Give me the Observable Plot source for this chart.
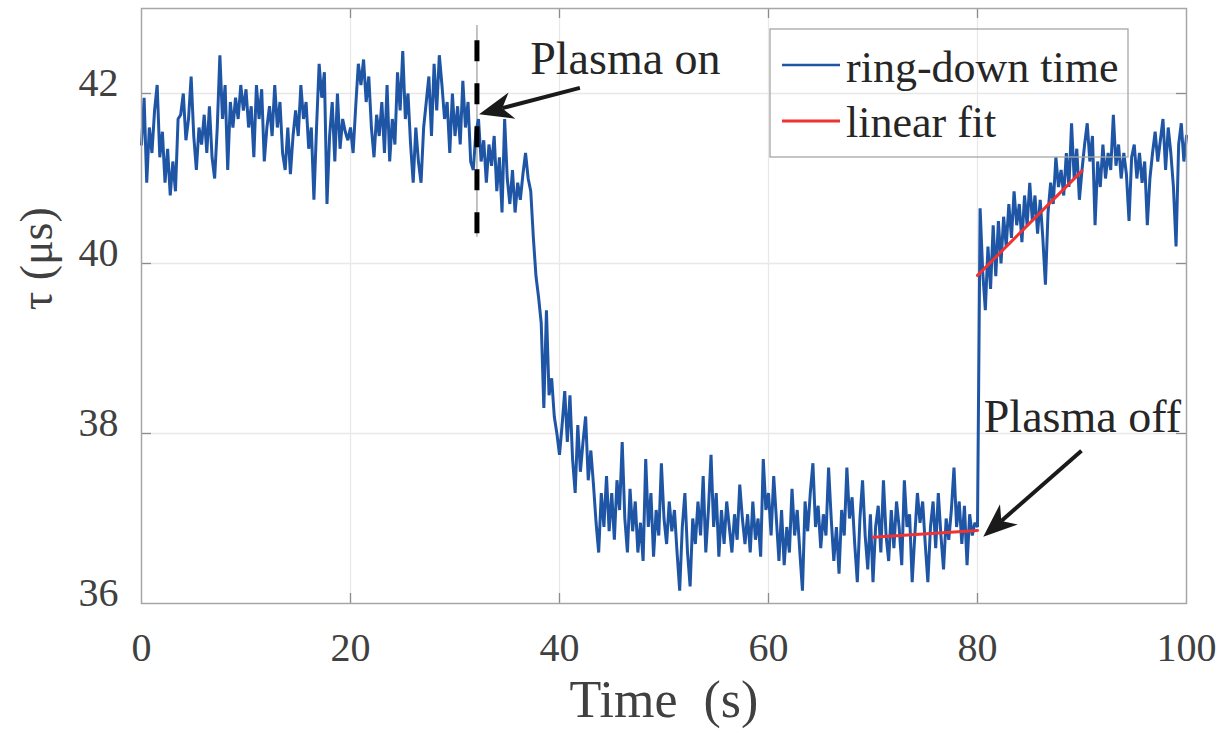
<!DOCTYPE html>
<html>
<head>
<meta charset="utf-8">
<script src="https://cdn.jsdelivr.net/npm/d3@7"></script>
<script src="https://cdn.jsdelivr.net/npm/@observablehq/plot@0.6"></script>
<style>
  body { margin: 0; background: #fff; }
  #chart svg { display: block; }
</style>
</head>
<body>
<div id="chart"></div>
<script>
// ---------- data ----------
const timeStep = 0.25; // seconds between samples
// ring-down time τ (µs), blocks of 5 s
const tau0_5   = [41.4, 41.95, 40.95, 41.6, 41.3, 41.8, 42.1, 41.25, 41.55, 40.95, 41.35, 40.8, 41.2, 40.85, 41.7, 41.75, 42.0, 41.45, 41.7, 42.2];
const tau5_10  = [41.5, 41.1, 41.6, 41.4, 41.75, 41.3, 41.85, 41.25, 41.0, 41.6, 42.45, 41.7, 42.1, 41.1, 41.9, 41.6, 41.95, 41.7, 42.1, 41.8];
const tau10_15 = [42.05, 41.6, 41.85, 41.25, 42.1, 41.7, 42.05, 41.2, 41.6, 41.85, 41.5, 42.1, 41.6, 41.9, 41.3, 41.1, 41.6, 41.05, 41.5, 41.8];
const tau15_20 = [41.5, 42.1, 41.7, 41.9, 41.35, 41.6, 40.75, 41.6, 42.35, 41.95, 42.25, 40.7, 41.5, 41.9, 41.2, 42.0, 41.35, 41.7, 41.55, 41.45];
const tau20_25 = [41.6, 41.3, 41.85, 42.35, 42.1, 42.4, 41.9, 42.2, 41.6, 41.25, 41.75, 41.5, 41.9, 41.3, 42.1, 41.2, 41.7, 41.4, 42.25, 41.8];
const tau25_30 = [42.5, 41.7, 42.0, 41.4, 40.95, 41.6, 41.2, 40.95, 41.6, 41.9, 42.2, 41.5, 42.35, 41.8, 42.45, 42.1, 41.7, 41.9, 41.3, 42.0];
const tau30_35 = [41.5, 41.85, 41.4, 42.15, 41.6, 41.9, 41.2, 41.1, 41.55, 41.7, 41.2, 41.45, 40.95, 41.4, 41.15, 41.5, 40.85, 41.25, 40.6, 41.7];
const tau35_40 = [41.0, 40.7, 41.1, 40.6, 40.95, 40.75, 41.05, 41.3, 41.0, 40.85, 40.3, 39.85, 39.6, 39.3, 38.3, 39.45, 38.45, 38.65, 38.2, 38.0];
const tau40_45 = [37.75, 38.1, 38.5, 37.9, 38.45, 37.7, 37.3, 38.1, 37.55, 37.9, 38.2, 37.45, 37.8, 37.4, 36.95, 36.6, 37.3, 36.9, 37.5, 36.85];
const tau45_50 = [37.3, 36.75, 37.45, 37.1, 37.9, 37.0, 36.6, 37.35, 36.85, 37.2, 36.6, 36.95, 36.5, 37.7, 36.9, 37.3, 36.55, 37.1, 36.8, 37.65];
const tau50_55 = [37.0, 36.7, 37.2, 36.85, 37.1, 36.6, 36.15, 36.9, 37.3, 36.6, 36.2, 37.0, 36.7, 37.2, 36.8, 37.5, 36.6, 37.1, 37.75, 36.9];
const tau55_60 = [37.3, 36.55, 37.1, 36.7, 37.2, 36.9, 36.6, 37.05, 36.75, 37.4, 37.0, 36.7, 37.05, 36.6, 37.2, 36.75, 37.0, 36.55, 37.7, 37.1];
const tau60_65 = [37.3, 36.8, 37.5, 37.0, 36.5, 37.1, 36.45, 36.9, 36.6, 37.35, 36.8, 37.1, 36.6, 36.15, 37.2, 36.85, 37.3, 37.65, 36.9, 37.15];
const tau65_70 = [36.65, 37.05, 36.8, 37.6, 37.0, 36.5, 36.9, 36.35, 37.1, 36.8, 37.6, 37.0, 37.25, 36.7, 36.25, 37.0, 37.45, 36.8, 36.4, 37.05];
const tau70_75 = [36.25, 36.9, 37.15, 36.6, 37.45, 36.8, 36.5, 37.1, 36.65, 37.2, 36.9, 36.45, 37.45, 36.9, 37.05, 36.25, 36.8, 37.3, 36.95, 37.2];
const tau75_80 = [36.7, 36.25, 36.9, 37.2, 36.65, 37.3, 36.8, 36.4, 37.0, 36.75, 37.1, 37.6, 36.9, 37.2, 36.7, 37.15, 36.45, 37.05, 36.8, 36.95];
const tau80_85 = [36.9, 40.65, 39.9, 39.45, 40.2, 39.7, 40.45, 39.85, 40.5, 40.0, 40.55, 40.2, 40.7, 40.3, 40.85, 40.45, 40.7, 40.25, 40.8, 40.45];
const tau85_90 = [40.95, 40.5, 40.8, 40.35, 40.75, 40.3, 39.75, 40.6, 40.95, 40.7, 41.25, 40.9, 41.1, 40.8, 41.3, 40.9, 41.65, 41.0, 41.35, 40.75];
const tau90_95 = [41.1, 41.4, 41.65, 41.2, 41.5, 40.45, 41.2, 40.9, 41.4, 41.0, 41.3, 41.1, 41.75, 41.15, 41.4, 41.0, 41.3, 41.05, 40.5, 41.25];
const tau95_100 = [41.4, 41.0, 41.3, 40.95, 41.2, 40.45, 41.0, 41.3, 41.55, 41.2, 41.45, 41.7, 41.1, 41.6, 41.3, 40.9, 40.2, 41.4, 41.65, 41.2, 41.5];

// linear fits
const fitBeforeT = [70, 80];
const fitBeforeTau = [36.78, 36.86];
const fitAfterT = [80, 90];
const fitAfterTau = [39.86, 41.09];

// ticks
const xTicks = [0, 20, 40, 60, 80, 100];
const yTicks = [36, 38, 40, 42];

// annotations (data coordinates)
const plasmaOnT = 32.1;
const plasmaOnGuide = [40.31, 42.80];
const plasmaOnDash = [42.62, 40.31];
const arrowOn = {from: [42.0, 42.06], to: [32.35, 41.75]};
const arrowOff = {from: [90.0, 37.79], to: [80.6, 36.78]};
const labelOn = {t: 37.2, tau: 42.23, text: "Plasma on"};
const labelOff = {t: 80.6, tau: 38.02, text: "Plasma off"};
const legendLabels = ["ring-down time", "linear fit"];
const xLabel = "Time  (s)";
const yLabel = "τ (μs)";

// ---------- build tables ----------
const tauAll = [tau0_5, tau5_10, tau10_15, tau15_20, tau20_25, tau25_30, tau30_35, tau35_40,
  tau40_45, tau45_50, tau50_55, tau55_60, tau60_65, tau65_70, tau70_75, tau75_80,
  tau80_85, tau85_90, tau90_95, tau95_100].flat();
const ringdown = tauAll.map((v, i) => ({t: i * timeStep, tau: v}));
const fitBefore = fitBeforeT.map((t, i) => ({t, tau: fitBeforeTau[i]}));
const fitAfter = fitAfterT.map((t, i) => ({t, tau: fitAfterTau[i]}));

const BLUE = "#1f55a5";
const RED = "#f03232";
const FONT = "'Liberation Serif', 'Times New Roman', serif";
const TXT = "#404040";
const tickLenY = 10 / 85;   // tick length in τ units
const tickLenX = 10 / 10.45; // tick length in s units

const innerX = xTicks.filter(d => d > 0 && d < 100);
const innerY = yTicks.filter(d => d > 36);

const plot = Plot.plot({
  width: 1220,
  height: 733,
  marginLeft: 141,
  marginRight: 34,
  marginTop: 8,
  marginBottom: 130,
  style: {fontFamily: FONT, background: "#fff", overflow: "visible"},
  x: {domain: [0, 100]},
  y: {domain: [36, 43]},
  marks: [
    Plot.gridX(innerX, {stroke: "#e8e8e8", strokeOpacity: 1, strokeWidth: 1.3}),
    Plot.gridY(innerY, {stroke: "#e8e8e8", strokeOpacity: 1, strokeWidth: 1.3}),
    Plot.axisX(xTicks, {tickSize: 0, tickPadding: 29, fontSize: 40, fill: TXT, label: null, tickFormat: d => String(d)}),
    Plot.axisY(yTicks, {tickSize: 0, tickPadding: 23, fontSize: 40, fill: TXT, label: null, dy: -10, tickFormat: d => String(d)}),
    // inward ticks on all sides
    Plot.ruleX(innerX, {x: d => d, y1: 36, y2: 36 + tickLenY, stroke: "#8c8c8c", strokeWidth: 1.3}),
    Plot.ruleX(innerX, {x: d => d, y1: 43 - tickLenY, y2: 43, stroke: "#8c8c8c", strokeWidth: 1.3}),
    Plot.ruleY(innerY, {y: d => d, x1: 0, x2: tickLenX, stroke: "#8c8c8c", strokeWidth: 1.3}),
    Plot.ruleY(innerY, {y: d => d, x1: 100 - tickLenX, x2: 100, stroke: "#8c8c8c", strokeWidth: 1.3}),
    // plasma-on guide
    Plot.ruleX([plasmaOnT], {x: d => d, y1: plasmaOnGuide[0], y2: plasmaOnGuide[1], stroke: "#9a9a9a", strokeWidth: 1.2}),
    // data
    Plot.line(ringdown, {x: "t", y: "tau", stroke: BLUE, strokeWidth: 3, strokeLinejoin: "miter"}),
    Plot.line(fitBefore, {x: "t", y: "tau", stroke: RED, strokeWidth: 3}),
    Plot.line(fitAfter, {x: "t", y: "tau", stroke: RED, strokeWidth: 3}),
    Plot.ruleX([plasmaOnT], {x: d => d, y1: plasmaOnDash[0], y2: plasmaOnDash[1], stroke: "#000", strokeWidth: 5, strokeDasharray: "21,22"}),
    Plot.frame({stroke: "#a6a6a6", strokeWidth: 1.5}),
    // annotation labels
    Plot.text([labelOn], {x: "t", y: "tau", text: "text", textAnchor: "start", lineAnchor: "bottom", fontSize: 46, fill: "#262626"}),
    Plot.text([labelOff], {x: "t", y: "tau", text: "text", textAnchor: "start", lineAnchor: "bottom", fontSize: 46, fill: "#262626"}),
    // x axis title
    Plot.text([xLabel], {frameAnchor: "bottom", dy: 113, lineAnchor: "bottom", fontSize: 52, fill: TXT})
  ]
});

document.getElementById("chart").appendChild(plot);

// ---------- arrows, y title and legend drawn with the plot's own scales ----------
const sx = plot.scale("x"), sy = plot.scale("y");
const svg = d3.select(plot);
const g = svg.append("g");

function drawArrow(a) {
  const x0 = sx.apply(a.from[0]), y0 = sy.apply(a.from[1]);
  const x1 = sx.apply(a.to[0]), y1 = sy.apply(a.to[1]);
  const dx = x1 - x0, dy = y1 - y0, len = Math.hypot(dx, dy);
  const ux = dx / len, uy = dy / len, px = -uy, py = ux;
  const L = 34, W = 13.5, N = 24;
  const bx = x1 - ux * L, by = y1 - uy * L;
  const nx = x1 - ux * N, ny = y1 - uy * N;
  g.append("line").attr("x1", x0).attr("y1", y0).attr("x2", nx).attr("y2", ny)
    .attr("stroke", "#1a1a1a").attr("stroke-width", 4);
  g.append("path")
    .attr("d", `M${x1},${y1}L${bx + px * W},${by + py * W}L${nx},${ny}L${bx - px * W},${by - py * W}Z`)
    .attr("fill", "#1a1a1a");
}
drawArrow(arrowOn);
drawArrow(arrowOff);

// y axis title (rotated), centred at τ ≈ 40.05
svg.append("text")
  .attr("transform", `translate(52,${sy.apply(40.05)}) rotate(-90)`)
  .attr("text-anchor", "middle")
  .attr("font-family", FONT).attr("font-size", 46).attr("fill", TXT)
  .text(yLabel);

// legend
const lg = svg.append("g").attr("font-family", FONT).attr("text-anchor", "start");
lg.append("rect").attr("x", 770).attr("y", 29).attr("width", 358).attr("height", 128)
  .attr("fill", "none").attr("stroke", "#a6a6a6").attr("stroke-width", 1.3);
[[BLUE, 65, 82], [RED, 121, 137]].forEach(([c, ly, by], i) => {
  lg.append("line").attr("x1", 782).attr("x2", 840).attr("y1", ly).attr("y2", ly)
    .attr("stroke", c).attr("stroke-width", i ? 3 : 2.4);
  lg.append("text").attr("x", 846).attr("y", by).attr("font-size", 44)
    .attr("text-anchor", "start")
    .attr("fill", "#262626").text(legendLabels[i]);
});
</script>
</body>
</html>
